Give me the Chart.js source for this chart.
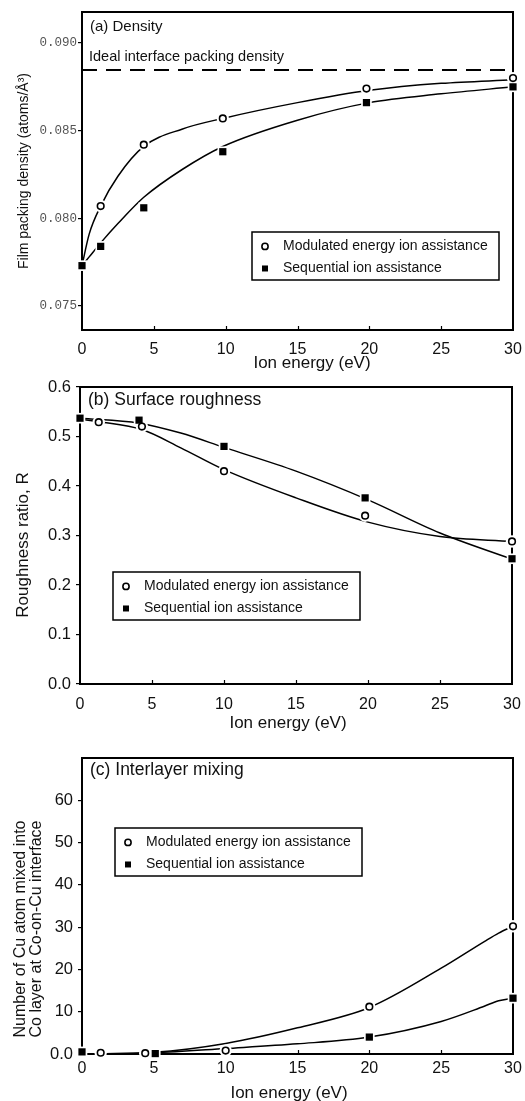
<!DOCTYPE html>
<html><head><meta charset="utf-8">
<script src="https://cdn.jsdelivr.net/npm/chart.js@4.4.1/dist/chart.umd.min.js"></script>
<style>
html,body{margin:0;padding:0;background:#fff;width:525px;height:1101px;overflow:hidden;position:relative}
canvas{position:absolute;left:0;display:block}
</style></head><body>
<canvas id="ca" width="525" height="372" style="top:0"></canvas>
<canvas id="cb" width="525" height="366" style="top:372px"></canvas>
<canvas id="cc" width="525" height="371" style="top:730px"></canvas>
<script>
// ---------- data ----------
const xTicks = [0, 5, 10, 15, 20, 25, 30];
const xTitle = 'Ion energy (eV)';
const legendLabels = ['Modulated energy ion assistance', 'Sequential ion assistance'];

// (a) Density
const aModX = [1.3, 4.3, 9.8, 19.8, 30];
const aModY = [0.0807, 0.0842, 0.0857, 0.0874, 0.0880];
const aSeqX = [0, 1.3, 4.3, 9.8, 19.8, 30];
const aSeqY = [0.0773, 0.0784, 0.0806, 0.0838, 0.0866, 0.0875];
const aFitX = [0, 0.5, 1.3, 2.5, 4.3, 7, 9.8, 15, 20, 25, 30];
const aFitMod = [0.0773, 0.0791, 0.0807, 0.0824, 0.0841, 0.0851, 0.0857, 0.0866, 0.0873, 0.0877, 0.0879];
const aFitSeq = [0.0773, 0.0778, 0.0786, 0.0797, 0.0812, 0.0828, 0.0841, 0.0856, 0.0866, 0.0871, 0.0875];
const aIdeal = 0.08846;
const aYTicks = [0.075, 0.080, 0.085, 0.090];

// (b) Surface roughness
const bModX = [1.3, 4.3, 10, 19.8, 30];
const bModY = [0.529, 0.520, 0.430, 0.340, 0.288];
const bSeqX = [0, 4.1, 10, 19.8, 30];
const bSeqY = [0.537, 0.533, 0.480, 0.376, 0.253];
const bFitModX = [0, 1.3, 4.3, 7, 10, 15, 20, 25, 30];
const bFitModY = [0.535, 0.530, 0.514, 0.477, 0.433, 0.376, 0.327, 0.298, 0.288];
const bFitSeqX = [0, 4.1, 7, 10, 15, 20, 25, 30];
const bFitSeqY = [0.537, 0.527, 0.507, 0.478, 0.430, 0.372, 0.305, 0.252];
const bYTicks = [0.0, 0.1, 0.2, 0.3, 0.4, 0.5, 0.6];

// (c) Interlayer mixing
const cModX = [1.3, 4.4, 10, 20, 30];
const cModY = [0.3, 0.2, 0.8, 11.2, 30.2];
const cSeqX = [0, 5.1, 20, 30];
const cSeqY = [0.5, 0.1, 4.0, 13.2];
const cFitX = [0, 5, 10, 15, 20, 25, 28, 29, 30];
const cFitMod = [0, 0.4, 2.5, 6.2, 11.0, 20.3, 26.6, 28.6, 30.2];
const cFitSeq = [0, 0.3, 1.3, 2.4, 4.0, 7.7, 11.3, 12.6, 13.2];
const cYTicks = [0, 10, 20, 30, 40, 50, 60];
const cYTickLabels = ['0.0', '10', '20', '30', '40', '50', '60'];

// ---------- helpers ----------
const SANS = '"Liberation Sans", Arial, Helvetica, sans-serif';
const pts = (xs, ys) => xs.map((x, i) => ({x: x, y: ys[i]}));

function fitSet(data, extra) {
  return Object.assign({type: 'scatter', data: data, showLine: true, pointRadius: 0,
    borderColor: '#000', borderWidth: 1.5, cubicInterpolationMode: 'monotone',
    clip: false, order: 3}, extra || {});
}
function haloSet(data, style) {
  return {type: 'scatter', data: data, showLine: false, pointStyle: style,
    pointRadius: style === 'rect' ? 7.5 : 6.2, pointBackgroundColor: '#fff',
    pointBorderColor: '#fff', pointBorderWidth: 0, clip: false, order: 2};
}
function markSet(data, style) {
  return style === 'circle'
    ? {type: 'scatter', data: data, showLine: false, pointStyle: 'circle', pointRadius: 3.3,
       pointBackgroundColor: '#fff', pointBorderColor: '#000', pointBorderWidth: 1.6, clip: false, order: 1}
    : {type: 'scatter', data: data, showLine: false, pointStyle: 'rect', pointRadius: 5.1,
       pointBackgroundColor: '#000', pointBorderColor: '#000', pointBorderWidth: 0, clip: false, order: 1};
}

const panelPlugin = {
  id: 'panel',
  beforeDatasetsDraw(chart, args, o) {
    const ctx = chart.ctx, a = chart.chartArea;
    ctx.save();
    ctx.strokeStyle = '#000'; ctx.lineWidth = 2;
    ctx.strokeRect(a.left, a.top, a.right - a.left, a.bottom - a.top);
    // inner x ticks
    const xs = chart.scales.x;
    ctx.lineWidth = 1.2;
    xTicks.forEach(v => {
      if (v === xs.min || v === xs.max) return;
      const px = Math.round(xs.getPixelForValue(v)) + 0.5;
      ctx.beginPath(); ctx.moveTo(px, a.bottom); ctx.lineTo(px, a.bottom - 4); ctx.stroke();
    });
    ctx.fillStyle = '#111'; ctx.textBaseline = 'middle'; ctx.textAlign = 'left';
    (o.texts || []).forEach(t => { ctx.font = t.font; ctx.fillText(t.text, t.x, t.y); });
    // x axis title
    ctx.textAlign = 'center';
    ctx.font = o.xTitle.font; ctx.fillText(xTitle, o.xTitle.x, o.xTitle.y);
    // y axis title (rotated)
    const yt = o.yTitle;
    ctx.font = yt.font;
    yt.lines.forEach((line, i) => {
      ctx.save(); ctx.translate(yt.xs[i], yt.y); ctx.rotate(-Math.PI / 2);
      ctx.fillText(line, 0, 0); ctx.restore();
    });
    ctx.restore();
  },
  afterDraw(chart, args, o) {
    const L = o.legend; if (!L) return;
    const ctx = chart.ctx;
    ctx.save();
    ctx.fillStyle = '#fff'; ctx.fillRect(L.x, L.y, L.w, L.h);
    ctx.strokeStyle = '#000'; ctx.lineWidth = 1.5; ctx.strokeRect(L.x, L.y, L.w, L.h);
    ctx.font = '14px ' + SANS; ctx.textBaseline = 'middle'; ctx.textAlign = 'left';
    const r1 = L.y + L.h * 0.30, r2 = L.y + L.h * 0.76, mx = L.x + 13;
    ctx.beginPath(); ctx.arc(mx, r1, 3.1, 0, Math.PI * 2);
    ctx.fillStyle = '#fff'; ctx.fill(); ctx.lineWidth = 1.6; ctx.strokeStyle = '#000'; ctx.stroke();
    ctx.fillStyle = '#000'; ctx.fillRect(mx - 3, r2 - 3, 6, 6);
    ctx.fillStyle = '#111';
    ctx.fillText(legendLabels[0], L.x + 31, r1);
    ctx.fillText(legendLabels[1], L.x + 31, r2);
    ctx.restore();
  }
};

function makeChart(id, cfg) {
  const yt = cfg.yTicks;
  return new Chart(document.getElementById(id), {
    type: 'scatter',
    data: {datasets: cfg.datasets},
    plugins: [panelPlugin],
    options: {
      responsive: false, animation: false, events: [],
      layout: {padding: cfg.pad},
      plugins: {legend: {display: false}, tooltip: {enabled: false}, panel: cfg.panel},
      scales: {
        x: {type: 'linear', min: 0, max: 30,
          afterBuildTicks: s => { s.ticks = xTicks.map(v => ({value: v})); },
          afterFit: s => { s.height = cfg.xH; },
          grid: {display: false}, border: {display: false},
          ticks: {color: '#111', font: {family: SANS, size: 16}, padding: cfg.xPad, maxRotation: 0, autoSkip: false},
          title: {display: false}
        },
        y: {type: 'linear', min: cfg.yMin, max: cfg.yMax,
          afterBuildTicks: s => { s.ticks = yt.map(v => ({value: v})); },
          afterFit: s => { s.width = cfg.yW; },
          grid: {drawOnChartArea: false, drawTicks: true, tickLength: 4, color: '#000', lineWidth: 1.2},
          border: {display: false},
          ticks: Object.assign({autoSkip: false, callback: cfg.yCb}, cfg.yTickOpts),
          title: {display: false}
        }
      }
    }
  });
}

// (a)
makeChart('ca', {
  datasets: [
    fitSet(pts(aFitX, aFitMod)), fitSet(pts(aFitX, aFitSeq)),
    fitSet([{x: 0, y: aIdeal}, {x: 30, y: aIdeal}], {borderDash: [15, 9], borderWidth: 2, cubicInterpolationMode: 'default'}),
    haloSet(pts(aModX, aModY), 'circle'), haloSet(pts(aSeqX, aSeqY), 'rect'),
    markSet(pts(aModX, aModY), 'circle'), markSet(pts(aSeqX, aSeqY), 'rect')
  ],
  pad: {top: 12, right: 12, left: 0, bottom: 0},
  xH: 42, xPad: 2,
  yW: 82, yMin: 0.07363, yMax: 0.09177, yTicks: aYTicks,
  yCb: v => Number(v).toFixed(3),
  yTickOpts: {color: '#555', font: {family: '"Liberation Mono", "Courier New", monospace', size: 12.5}, padding: 1},
  panel: {
    texts: [
      {text: '(a) Density', x: 90, y: 27, font: '15px ' + SANS},
      {text: 'Ideal interface packing density', x: 89, y: 57, font: '14.5px ' + SANS}
    ],
    xTitle: {x: 312, y: 363, font: '17px ' + SANS},
    yTitle: {lines: ['Film packing density (atoms/Å³)'], xs: [24], y: 171, font: '14px ' + SANS},
    legend: {x: 252, y: 232, w: 247, h: 48}
  }
});

// (b)
makeChart('cb', {
  datasets: [
    fitSet(pts(bFitModX, bFitModY)), fitSet(pts(bFitSeqX, bFitSeqY)),
    haloSet(pts(bModX, bModY), 'circle'), haloSet(pts(bSeqX, bSeqY), 'rect'),
    markSet(pts(bModX, bModY), 'circle'), markSet(pts(bSeqX, bSeqY), 'rect')
  ],
  pad: {top: 15, right: 13, left: 0, bottom: 0},
  xH: 54, xPad: 3,
  yW: 80, yMin: 0, yMax: 0.6, yTicks: bYTicks,
  yCb: v => Number(v).toFixed(1),
  yTickOpts: {color: '#111', font: {family: SANS, size: 16.5}, padding: 5},
  panel: {
    texts: [{text: '(b) Surface roughness', x: 88, y: 28, font: '17.5px ' + SANS}],
    xTitle: {x: 288, y: 351, font: '17px ' + SANS},
    yTitle: {lines: ['Roughness ratio, R'], xs: [23], y: 173, font: '17px ' + SANS},
    legend: {x: 113, y: 200, w: 247, h: 48}
  }
});

// (c)
makeChart('cc', {
  datasets: [
    fitSet(pts(cFitX, cFitMod)), fitSet(pts(cFitX, cFitSeq)),
    haloSet(pts(cModX, cModY), 'circle'), haloSet(pts(cSeqX, cSeqY), 'rect'),
    markSet(pts(cModX, cModY), 'circle'), markSet(pts(cSeqX, cSeqY), 'rect')
  ],
  pad: {top: 28, right: 12, left: 0, bottom: 0},
  xH: 47, xPad: -3,
  yW: 82, yMin: 0, yMax: 70, yTicks: cYTicks,
  yCb: (v, i) => cYTickLabels[i],
  yTickOpts: {color: '#111', font: {family: SANS, size: 16.5}, padding: 5},
  panel: {
    texts: [{text: '(c) Interlayer mixing', x: 90, y: 40, font: '17.5px ' + SANS}],
    xTitle: {x: 289, y: 363, font: '17px ' + SANS},
    yTitle: {lines: ['Number of Cu atom mixed into', 'Co layer at Co-on-Cu interface'], xs: [21, 37], y: 199, font: '16px ' + SANS},
    legend: {x: 115, y: 98, w: 247, h: 48}
  }
});
</script>
</body></html>
